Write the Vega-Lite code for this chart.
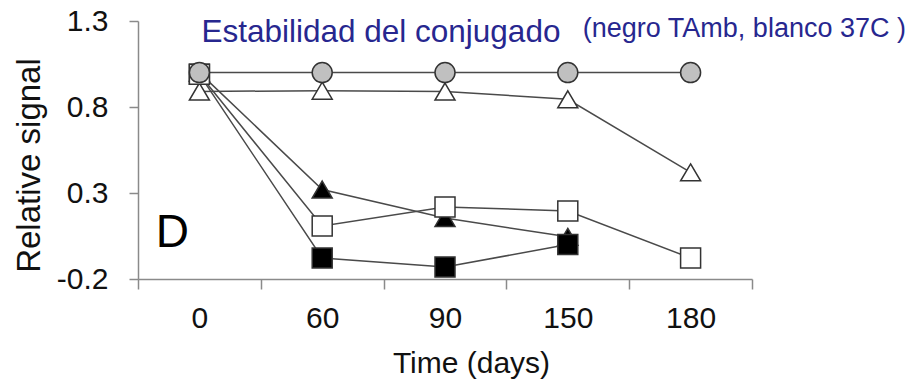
{
  "$schema": "https://vega.github.io/schema/vega-lite/v6.json",
  "width": 614,
  "height": 258,
  "autosize": {"type": "none"},
  "padding": {"left": 138, "top": 21, "right": 172, "bottom": 110},
  "background": "white",
  "config": {
    "view": {"stroke": null},
    "font": "Liberation Sans",
    "axis": {
      "grid": false,
      "domainColor": "#8a8a8a",
      "domainWidth": 1.5,
      "tickColor": "#8a8a8a",
      "tickWidth": 1.5,
      "labelColor": "#111111",
      "titleColor": "#111111",
      "labelFont": "Liberation Sans",
      "titleFont": "Liberation Sans",
      "titleFontWeight": "normal"
    }
  },
  "datasets": {
    "series": [
      {"day": "0", "series": "filled triangle", "value": 1.0},
      {"day": "60", "series": "filled triangle", "value": 0.32},
      {"day": "90", "series": "filled triangle", "value": 0.155},
      {"day": "150", "series": "filled triangle", "value": 0.045},
      {"day": "0", "series": "open triangle", "value": 0.89},
      {"day": "60", "series": "open triangle", "value": 0.895},
      {"day": "90", "series": "open triangle", "value": 0.89},
      {"day": "150", "series": "open triangle", "value": 0.845},
      {"day": "180", "series": "open triangle", "value": 0.42},
      {"day": "0", "series": "filled square", "value": 0.99},
      {"day": "60", "series": "filled square", "value": -0.078},
      {"day": "90", "series": "filled square", "value": -0.13},
      {"day": "150", "series": "filled square", "value": 0.0},
      {"day": "0", "series": "open square", "value": 0.99},
      {"day": "60", "series": "open square", "value": 0.108},
      {"day": "90", "series": "open square", "value": 0.219},
      {"day": "150", "series": "open square", "value": 0.195},
      {"day": "180", "series": "open square", "value": -0.078},
      {"day": "0", "series": "gray circle", "value": 1.0},
      {"day": "60", "series": "gray circle", "value": 1.0},
      {"day": "90", "series": "gray circle", "value": 1.0},
      {"day": "150", "series": "gray circle", "value": 1.0},
      {"day": "180", "series": "gray circle", "value": 1.0}
    ],
    "notes": [
      {"label": "x"}
    ]
  },
  "layer": [
    {
      "data": {"name": "series"},
      "mark": {"type": "line", "color": "#4a4a4a", "strokeWidth": 1.5},
      "encoding": {
        "x": {
          "field": "day",
          "type": "ordinal",
          "sort": ["0", "60", "90", "150", "180"],
          "scale": {"type": "band", "domain": ["0", "60", "90", "150", "180"], "paddingInner": 0, "paddingOuter": 0},
          "axis": {
            "title": "Time (days)",
            "labelAngle": 0,
            "labelFontSize": 30,
            "labelPadding": 14,
            "tickSize": 10,
            "tickBand": "extent",
            "titleFontSize": 30,
            "titlePadding": 15,
            "titleX": 333
          }
        },
        "y": {
          "field": "value",
          "type": "quantitative",
          "scale": {"domain": [-0.2, 1.3], "nice": false, "zero": false},
          "axis": {
            "title": "Relative signal",
            "values": [-0.2, 0.3, 0.8, 1.3],
            "labelExpr": "replace(format(datum.value, '.1f'), '\u2212', '-')",
            "labelFontSize": 30,
            "labelPadding": 21,
            "tickSize": 9,
            "titleFontSize": 33,
            "titlePadding": 10,
            "titleY": 144
          }
        },
        "detail": {"field": "series"}
      }
    },
    {
      "data": {"name": "series"},
      "mark": {"type": "point", "filled": true, "size": 400, "stroke": "#333333", "strokeWidth": 1.5, "opacity": 1},
      "encoding": {
        "x": {"field": "day", "type": "ordinal", "sort": ["0", "60", "90", "150", "180"]},
        "y": {"field": "value", "type": "quantitative"},
        "shape": {
          "field": "series",
          "type": "nominal",
          "scale": {
            "domain": ["filled triangle", "open triangle", "filled square", "open square", "gray circle"],
            "range": ["M0,-0.85L1,0.85L-1,0.85Z", "M0,-0.85L1,0.85L-1,0.85Z", "square", "square", "circle"]
          },
          "legend": null
        },
        "fill": {
          "field": "series",
          "type": "nominal",
          "scale": {
            "domain": ["filled triangle", "open triangle", "filled square", "open square", "gray circle"],
            "range": ["#000000", "#ffffff", "#000000", "#ffffff", "#c0c0c0"]
          },
          "legend": null
        }
      }
    },
    {
      "data": {"name": "notes"},
      "mark": {"type": "text", "align": "center", "baseline": "middle", "fontSize": 46, "color": "#000000", "dx": -27},
      "encoding": {"x": {"datum": "0", "type": "ordinal"}, "y": {"datum": 0.07, "type": "quantitative"}, "text": {"value": "D"}}
    },
    {
      "data": {"name": "notes"},
      "mark": {"type": "text", "align": "left", "baseline": "alphabetic", "fontSize": 31.5, "color": "#27278f", "dx": 2},
      "encoding": {"x": {"datum": "0", "type": "ordinal"}, "y": {"datum": 1.18, "type": "quantitative"}, "text": {"value": "Estabilidad del conjugado"}}
    },
    {
      "data": {"name": "notes"},
      "mark": {"type": "text", "align": "left", "baseline": "alphabetic", "fontSize": 27, "color": "#27278f", "dx": 15},
      "encoding": {"x": {"datum": "150", "type": "ordinal"}, "y": {"datum": 1.209, "type": "quantitative"}, "text": {"value": "(negro TAmb, blanco 37C )"}}
    }
  ]
}
